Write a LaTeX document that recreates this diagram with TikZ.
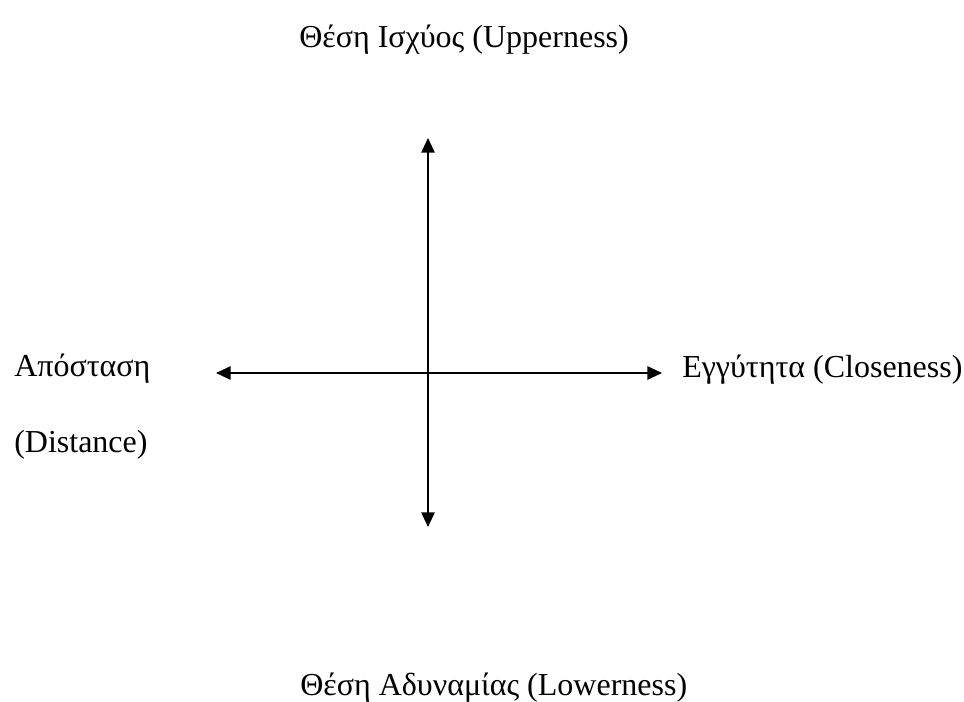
\documentclass[tikz,border=0pt]{standalone}
\usepackage{fontspec}
\setmainfont{Liberation Serif}
\usepackage{tikz}
\usetikzlibrary{arrows.meta}

\begin{document}
\begin{tikzpicture}[
  x=0.75pt,y=-0.75pt,
  font=\fontsize{24}{28}\selectfont,
  lbl/.style={inner sep=0pt,anchor=base west},
  axis/.style={{Triangle[length=11pt,width=10pt]}-{Triangle[length=11pt,width=10pt]},line width=1.4pt}
]
  \useasboundingbox (0,0) rectangle (964,702);
  % axis ends
  \coordinate (top) at (428,138);
  \coordinate (bot) at (428,527);
  \coordinate (left) at (216,373);
  \coordinate (right) at (662,373);
  \draw[axis] (bot) -- (top);
  \draw[axis] (left) -- (right);
  % labels
  \node[lbl] (upper) at (299,48) {Θέση Ισχύος (Upperness)};
  \node[lbl] (lower) at (300,695) {Θέση Αδυναμίας (Lowerness)};
  \node[lbl] (close) at (682,378) {Εγγύτητα (Closeness)};
  \node[lbl] (dist) at (14,377) {Απόσταση};
  \node[lbl] (distEn) at (14,452) {(Distance)};
\end{tikzpicture}
\end{document}
